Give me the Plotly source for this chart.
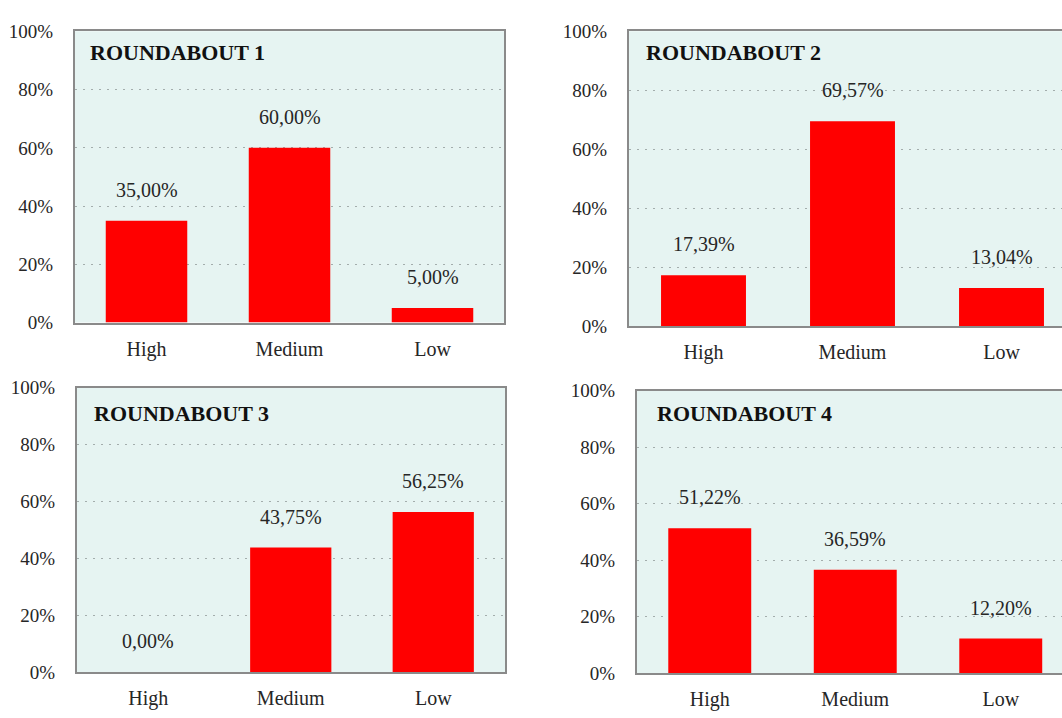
import plotly.graph_objects as go

# Share of observations per level, one list per roundabout (percent)
categories = ["High", "Medium", "Low"]
roundabout_1 = [35.00, 60.00, 5.00]
roundabout_2 = [17.39, 69.57, 13.04]
roundabout_3 = [0.00, 43.75, 56.25]
roundabout_4 = [51.22, 36.59, 12.20]
panel_titles = ["ROUNDABOUT 1", "ROUNDABOUT 2", "ROUNDABOUT 3", "ROUNDABOUT 4"]
y_tick_values = [0, 20, 40, 60, 80, 100]
y_tick_labels = ["0%", "20%", "40%", "60%", "80%", "100%"]

series = [roundabout_1, roundabout_2, roundabout_3, roundabout_4]

W, H = 1062, 718
FONT = "Liberation Serif"
TEXT = "#262626"

# panel frames in pixels: left, right, top, bottom (right-hand panels run off the page edge)
frames = [
    (75, 504, 22, 322),
    (629, 1062, 22, 326),
    (77, 505, 389, 682),
    (637, 1062, 392, 683),
]
# category pitch in pixels, used to work out how much of the last slot is visible
pitch = [143, 149, 142.5, 145.5]
title_offsets = [(13, 21), (15, 21), (15, 26), (18, 23)]

fig = go.Figure()

for i, (vals, (l, r, t, b)) in enumerate(zip(series, frames)):
    n = i + 1
    xa = "x" if n == 1 else f"x{n}"
    ya = "y" if n == 1 else f"y{n}"
    fig.add_trace(go.Bar(
        x=categories, y=vals, xaxis=xa, yaxis=ya,
        width=0.57,
        marker=dict(color="#ff0000", line=dict(width=0)),
        showlegend=False, hoverinfo="skip",
    ))
    xr_end = -0.5 + (r - l) / pitch[i]
    clipped = r >= W
    fig.update_layout(**{
        f"xaxis{'' if n == 1 else n}": dict(
            domain=[l / W, r / W], anchor=ya,
            range=[-0.5, xr_end], type="category",
            categoryorder="array", categoryarray=categories,
            showline=True, linecolor="#8a8a8a", linewidth=2, mirror=True,
            showgrid=False, ticks="", ticklabelstandoff=7,
            tickfont=dict(family=FONT, size=20, color=TEXT),
            fixedrange=True,
        ),
        f"yaxis{'' if n == 1 else n}": dict(
            domain=[1 - b / H, 1 - t / H], anchor=xa,
            range=[0, 100],
            tickvals=y_tick_values, ticktext=y_tick_labels,
            showline=True, linecolor="#8a8a8a", linewidth=2,
            mirror=not clipped,
            showgrid=True, gridcolor="#a3adac", gridwidth=1, griddash="2px,6px",
            zeroline=False, ticks="", ticklabelstandoff=16,
            tickfont=dict(family=FONT, size=19, color=TEXT),
            fixedrange=True,
        ),
    })
    # plot-area fill
    fig.add_shape(type="rect", xref=f"{xa} domain", yref=f"{ya} domain",
                  x0=0, x1=1, y0=0, y1=1, fillcolor="#e6f4f2",
                  line=dict(width=0), layer="below")
    # value labels above each bar
    for c, v in zip(categories, vals):
        fig.add_annotation(
            x=c, y=v, xref=xa, yref=ya, text=f"{v:.2f}%".replace(".", ","),
            showarrow=False, yanchor="bottom", yshift=19, borderpad=0,
            font=dict(family=FONT, size=20, color=TEXT),
        )
    # panel title in the top-left corner
    dx, dy = title_offsets[i]
    fig.add_annotation(
        x=0, y=1, xref=f"{xa} domain", yref=f"{ya} domain",
        xshift=dx, yshift=-dy, xanchor="left", yanchor="middle",
        text=f"<b>{panel_titles[i]}</b>", showarrow=False,
        font=dict(family=FONT, size=22, color="#111111"),
    )

fig.update_layout(
    width=W, height=H,
    margin=dict(l=0, r=0, t=0, b=0),
    paper_bgcolor="white", plot_bgcolor="rgba(0,0,0,0)",
)

fig.write_html("out.html", config={"displayModeBar": False})
